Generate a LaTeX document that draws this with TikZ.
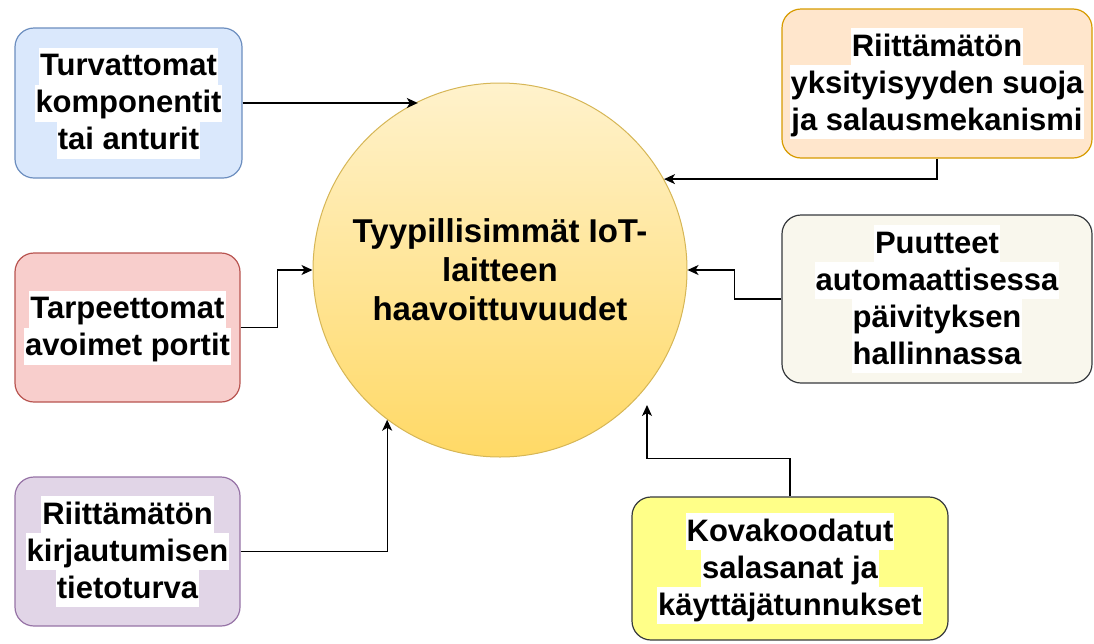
\documentclass[tikz,border=0pt]{standalone}
\usepackage{fontspec}
\setmainfont{Liberation Sans}
\usetikzlibrary{arrows.meta}

\definecolor{blueFill}{HTML}{DAE8FC}\definecolor{blueLine}{HTML}{6C8EBF}
\definecolor{redFill}{HTML}{F8CECC}\definecolor{redLine}{HTML}{B85450}
\definecolor{purpleFill}{HTML}{E1D5E7}\definecolor{purpleLine}{HTML}{9673A6}
\definecolor{orangeFill}{HTML}{FFE6CC}\definecolor{orangeLine}{HTML}{D79B00}
\definecolor{beigeFill}{HTML}{F9F7ED}\definecolor{greyLine}{HTML}{36393D}
\definecolor{yellowFill}{HTML}{FFFF88}
\definecolor{circTop}{HTML}{FFF2CC}\definecolor{circBottom}{HTML}{FFD966}
\definecolor{circLine}{HTML}{D6B656}

% one text line on a white strip
\newcommand{\hlline}[1]{{\setlength{\fboxsep}{0pt}\colorbox{white}{\kern1pt\rule[-9pt]{0pt}{37pt}#1\kern1pt}}}

\tikzset{
  issue/.style={draw, rounded corners=19pt, line width=1.2pt, align=center,
    inner sep=0pt, font=\fontsize{31}{37}\selectfont\bfseries},
  link/.style={line width=1.3pt, -{Stealth[length=11pt,width=10pt,inset=3pt]}},
}

\begin{document}
\begin{tikzpicture}[x=1pt,y=-1pt]
\useasboundingbox (0,0) rectangle (1094,643);

% central circle
\node[circle, draw=circLine, line width=1pt, top color=circTop, bottom color=circBottom,
      minimum size=374pt, inner sep=0pt, align=center,
      font=\fontsize{33}{39}\selectfont\bfseries] (circ) at (500,270)
  {Tyypillisimmät IoT-\\laitteen\\haavoittuvuudet};

% issue boxes
\node[issue, fill=blueFill, draw=blueLine, minimum width=227pt, minimum height=150pt]
  (blue) at (128.5,103) {\hlline{Turvattomat}\\\hlline{komponentit}\\\hlline{tai anturit}};
\node[issue, fill=redFill, draw=redLine, minimum width=225pt, minimum height=149pt]
  (red) at (127.5,327.5) {\hlline{Tarpeettomat}\\\hlline{avoimet portit}};
\node[issue, fill=purpleFill, draw=purpleLine, minimum width=225pt, minimum height=149pt]
  (purple) at (127.5,551.5) {\hlline{Riittämätön}\\\hlline{kirjautumisen}\\\hlline{tietoturva}};
\node[issue, fill=orangeFill, draw=orangeLine, minimum width=310pt, minimum height=149pt]
  (orange) at (937,83.5) {\hlline{Riittämätön}\\\hlline{yksityisyyden suoja}\\\hlline{ja salausmekanismi}};
\node[issue, fill=beigeFill, draw=greyLine, minimum width=310pt, minimum height=168pt]
  (beige) at (937,299) {\hlline{Puutteet}\\\hlline{automaattisessa}\\\hlline{päivityksen}\\\hlline{hallinnassa}};
\node[issue, fill=yellowFill, draw=greyLine, minimum width=316pt, minimum height=143pt]
  (yellow) at (790,568.5) {\hlline{Kovakoodatut}\\\hlline{salasanat ja}\\\hlline{käyttäjätunnukset}};

\coordinate (yellowTip) at (647,405);

% connectors
\draw[link] (blue.east) -- (blue.east -| circ.116.7);
\draw[link] (red.east) -- ++(37,0) |- (circ.west);
\draw[link] (purple.east) -| (circ.233.3);
\draw[link] (orange.south) |- (circ.29.4);
\draw[link] (beige.west) -- ++(-47,0) |- (circ.east);
\draw[link] (yellow.north) -- ++(0,-38) -| (yellowTip);
\end{tikzpicture}
\end{document}
